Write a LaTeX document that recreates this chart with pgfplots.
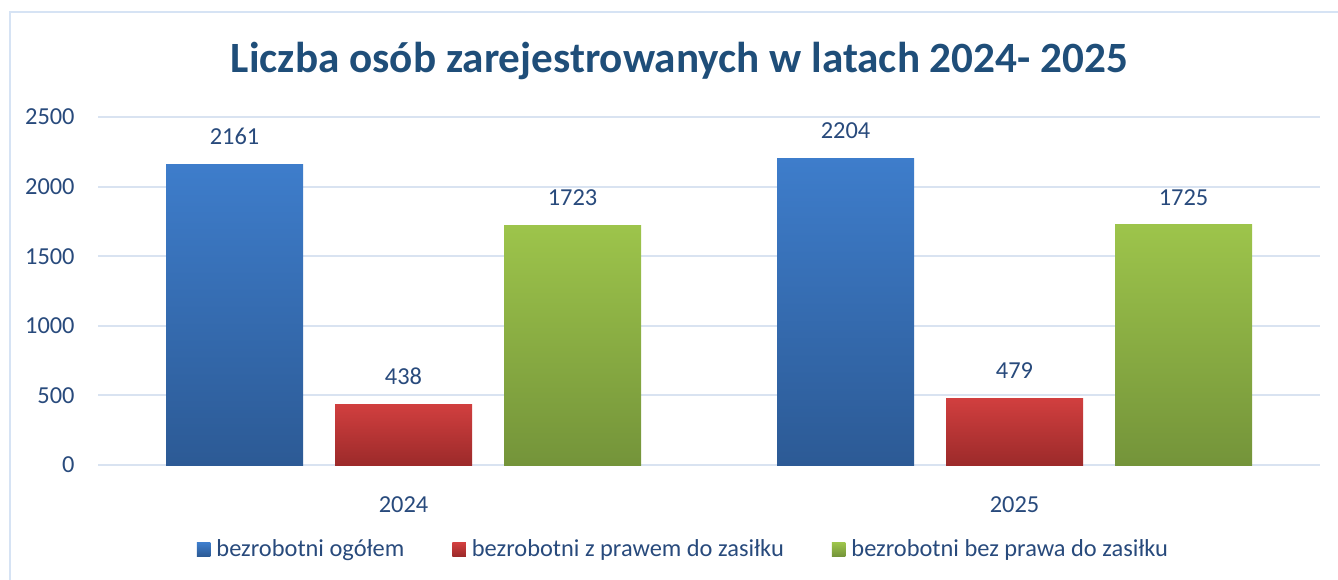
\documentclass[border=0pt]{standalone}
\usepackage{fontspec}
\setmainfont{Carlito}
\usepackage{pgfplots}
\pgfplotsset{compat=1.18}

\definecolor{txt}{HTML}{284A7C}
\definecolor{titlec}{HTML}{1F4E79}
\definecolor{gridc}{HTML}{D9E3F1}
\definecolor{framec}{HTML}{D6E3F4}
\definecolor{blueT}{HTML}{3E7DCB}
\definecolor{blueB}{HTML}{2C5A95}
\definecolor{redT}{HTML}{D13F3F}
\definecolor{redB}{HTML}{9C2A2A}
\definecolor{greenT}{HTML}{9DC44B}
\definecolor{greenB}{HTML}{74943A}

\newcommand\lbl{\fontsize{12.2}{14.6}\selectfont}

\begin{document}
\begin{tikzpicture}
\useasboundingbox (0,0) rectangle (669pt,289.5pt);
\draw[framec, line width=0.8pt] (5pt,-10pt) rectangle (675pt,283.5pt);
\node[anchor=base, text=titlec, inner sep=0pt, font=\fontsize{21.6}{26}\selectfont\bfseries]
  at (339.75pt,253pt) {Liczba osób zarejestrowanych w latach 2024- 2025};
\begin{axis}[
    at={(49pt,57pt)}, anchor=south west,
    scale only axis, width=611pt, height=174pt,
    xmin=-0.5, xmax=1.5, ymin=0, ymax=2500,
    xtick={0,1}, xticklabels={2024,2025},
    ytick={0,500,...,2500},
    ymajorgrids, grid style={gridc, line width=1pt},
    axis line style={draw=none}, tick style={draw=none},
    /pgf/number format/assume math mode=true,
    /pgf/number format/1000 sep={},
    yticklabel style={anchor=east, inner sep=0pt, xshift=-11.5pt, text=txt, font=\lbl},
    xticklabel style={anchor=north, inner sep=0pt, yshift=-11.5pt, text=txt, font=\lbl},
    ybar, bar width=68.5pt,
    nodes near coords,
    every node near coord/.append style={anchor=south, inner sep=0pt, yshift=9.5pt, text=txt, font=\lbl},
    legend image code/.code={\path[draw=none,#1] (0pt,-3.4pt) rectangle (6.8pt,3.4pt);},
    legend columns=3,
    legend style={draw=none, fill=none, at={(0.4783,-0.2428)}, anchor=center,
      font=\lbl, text=txt, inner sep=0pt,
      nodes={inner sep=0pt},
      /tikz/every odd column/.append style={column sep=3pt},
      /tikz/every even column/.append style={column sep=24pt}},
  ]
% 2024
\addplot[draw=none, top color=blueT, bottom color=blueB, bar shift=-84.5pt] coordinates {(0,2161)};
\addlegendentry{bezrobotni ogółem}
\addplot[draw=none, top color=redT, bottom color=redB, bar shift=0pt] coordinates {(0,438)};
\addlegendentry{bezrobotni z prawem do zasiłku}
\addplot[draw=none, top color=greenT, bottom color=greenB, bar shift=84.5pt] coordinates {(0,1723)};
\addlegendentry{bezrobotni bez prawa do zasiłku}
% 2025
\addplot[forget plot, draw=none, top color=blueT, bottom color=blueB, bar shift=-84.5pt] coordinates {(1,2204)};
\addplot[forget plot, draw=none, top color=redT, bottom color=redB, bar shift=0pt] coordinates {(1,479)};
\addplot[forget plot, draw=none, top color=greenT, bottom color=greenB, bar shift=84.5pt] coordinates {(1,1725)};
\end{axis}
\end{tikzpicture}
\end{document}
